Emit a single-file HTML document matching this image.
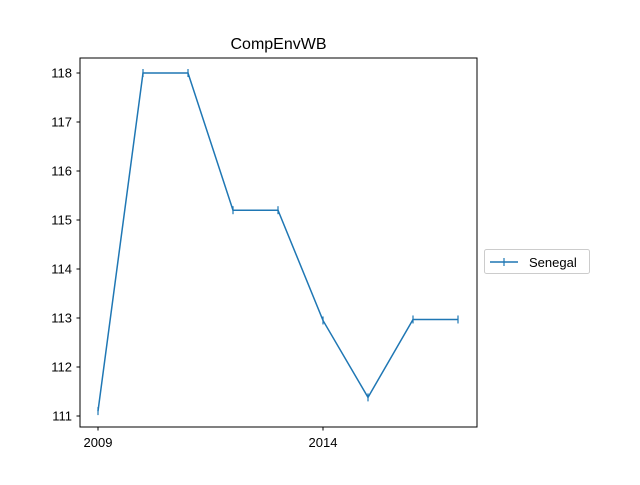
<!DOCTYPE html>
<html><head><meta charset="utf-8"><style>
body{margin:0;background:#fff;}
text{font-family:"Liberation Sans","DejaVu Sans",sans-serif;}
</style></head><body>
<svg id="chart" width="640" height="480" xmlns="http://www.w3.org/2000/svg">
<rect width="640" height="480" fill="#fff"/>
<text x="278.5" y="49" font-size="16" text-anchor="middle">CompEnvWB</text>
<g id="plot"></g>
<rect x="80" y="58" width="397" height="369" fill="none" stroke="#000" stroke-width="1"/>
<g>
<rect x="484.5" y="249.5" width="105" height="24" rx="2" fill="#fff" stroke="#ccc"/>
<line x1="490" y1="262" x2="518" y2="262" stroke="#1f77b4" stroke-width="1.5"/>
<line x1="504" y1="258" x2="504" y2="266" stroke="#1f77b4" stroke-width="1.2"/>
<text x="529" y="267" font-size="13">Senegal</text>
</g>
</svg>
<script>
const years=[2009,2010,2011,2012,2013,2014,2015,2016,2017];
const values=[111.1,118.0,118.0,115.2,115.2,112.95,111.38,112.97,112.97];
const yTicks=[111,112,113,114,115,116,117,118];
const xTicks=[2009,2014];
const NS="http://www.w3.org/2000/svg";
const g=document.getElementById('plot');
const xs=y=>98+(y-2009)*45;
const ys=v=>73+(118-v)*49;
function mk(t,a){const e=document.createElementNS(NS,t);for(const k in a)e.setAttribute(k,a[k]);g.appendChild(e);return e;}
yTicks.forEach(t=>{
 const l=mk('line',{x1:76.5,x2:80,y1:ys(t),y2:ys(t),stroke:'#000'});
 
 
 const tx=mk('text',{x:72,y:ys(t)+4.5,'font-size':13,'text-anchor':'end'});
 tx.textContent=t;
 
 
});
xTicks.forEach(t=>{
 const l=mk('line',{x1:xs(t),x2:xs(t),y1:427,y2:430.5,stroke:'#000'});
 
 
 const tx=mk('text',{x:xs(t),y:447,'font-size':13,'text-anchor':'middle'});
 tx.textContent=t;
 
 
});
const pl=mk('polyline',{points:years.map((y,i)=>xs(y)+','+ys(values[i])).join(' '),fill:'none',stroke:'#1f77b4','stroke-width':1.5});


years.forEach((y,i)=>{
 const m=mk('line',{x1:xs(y),x2:xs(y),y1:ys(values[i])-4,y2:ys(values[i])+4,stroke:'#1f77b4','stroke-width':1.2});
 
 
});
</script>
</body></html>
